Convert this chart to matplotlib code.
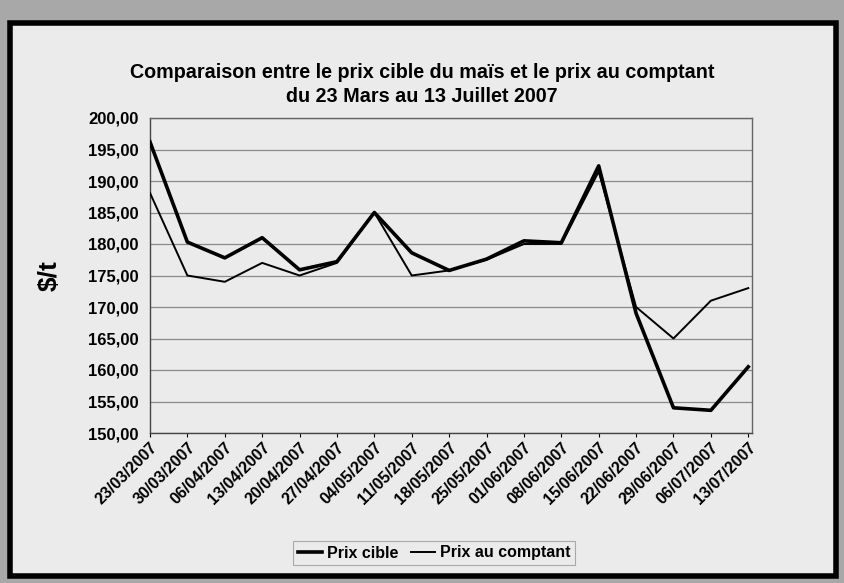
import matplotlib
matplotlib.use('Agg')
from matplotlib import pyplot as plt
from matplotlib.patches import Rectangle
from matplotlib.ticker import FuncFormatter

dates = ['23/03/2007', '30/03/2007', '06/04/2007', '13/04/2007', '20/04/2007',
         '27/04/2007', '04/05/2007', '11/05/2007', '18/05/2007', '25/05/2007',
         '01/06/2007', '08/06/2007', '15/06/2007', '22/06/2007', '29/06/2007',
         '06/07/2007', '13/07/2007']
prix_cible = [196.2, 180.3, 177.8, 181.0, 175.9, 177.2, 185.0, 178.6, 175.8,
              177.6, 180.5, 180.2, 192.4, 169.0, 154.0, 153.6, 160.5]
prix_comptant = [188.1, 175.0, 174.0, 177.0, 175.0, 177.0, 185.0, 175.0, 175.8,
                 177.5, 180.0, 180.0, 191.5, 170.0, 165.0, 171.0, 173.0]
yticks = [150, 155, 160, 165, 170, 175, 180, 185, 190, 195, 200]

plt.rcParams['font.family'] = ['Liberation Sans', 'DejaVu Sans']

fig = plt.figure(figsize=(8.44, 5.83), dpi=100, facecolor='#a8a8a8')
# inner panel with thick black frame
fig.patches.append(Rectangle((10 / 844, 7 / 583), 826 / 844, 553 / 583,
                             transform=fig.transFigure, facecolor='#ebebeb',
                             edgecolor='black', linewidth=4, zorder=-1))

ax = fig.add_axes([150 / 844, 1 - 433 / 583, 602 / 844, 315 / 583])
ax.set_zorder(2)
ax.set_facecolor('#ebebeb')
x = list(range(len(dates)))
ax.plot(x, prix_cible, color='black', linewidth=2.6, label='Prix cible', zorder=3)
ax.plot(x, prix_comptant, color='black', linewidth=1.4, label='Prix au comptant', zorder=3)

ax.set_xlim(0, len(dates) - 0.9)
ax.set_ylim(150, 200)
ax.set_yticks(yticks)
ax.yaxis.set_major_formatter(FuncFormatter(lambda v, p: f'{v:.2f}'.replace('.', ',')))
ax.set_xticks(x)
ax.set_xticklabels(dates, rotation=45, ha='right', rotation_mode='anchor',
                   fontsize=11.5, fontweight='bold')
for lab in ax.get_yticklabels():
    lab.set_fontweight('bold')
    lab.set_fontsize(12)
ax.tick_params(axis='x', length=3, direction='out', pad=2)
ax.tick_params(axis='y', length=0, pad=8)
ax.grid(axis='y', color='#8a8a8a', linewidth=0.9)
for s in ax.spines.values():
    s.set_color('#666666')
    s.set_linewidth(1)
ax.spines['left'].set_color('#444444')
ax.spines['bottom'].set_color('#444444')

ax.set_ylabel(r'\$/t', fontsize=19, fontweight='bold')
ax.yaxis.set_label_coords((62 - 150) / 602, 0.5)

fig.text(0.5, 1 - 73 / 583, 'Comparaison entre le prix cible du maïs et le prix au comptant',
         ha='center', va='center', fontsize=14.2, fontweight='bold')
fig.text(0.5, 1 - 97 / 583, 'du 23 Mars au 13 Juillet 2007',
         ha='center', va='center', fontsize=14.2, fontweight='bold')

leg = fig.legend(loc='center', bbox_to_anchor=(434 / 844, 1 - 553 / 583), ncol=2,
                 frameon=True, fancybox=False, handlelength=1.5, handletextpad=0.3,
                 columnspacing=0.8, borderpad=0.3, prop={'weight': 'bold', 'size': 11.5})
leg.get_frame().set_edgecolor('#999999')
leg.get_frame().set_facecolor('#ebebeb')
leg.get_frame().set_linewidth(0.8)

fig.savefig('out.png', dpi=100, facecolor=fig.get_facecolor())
